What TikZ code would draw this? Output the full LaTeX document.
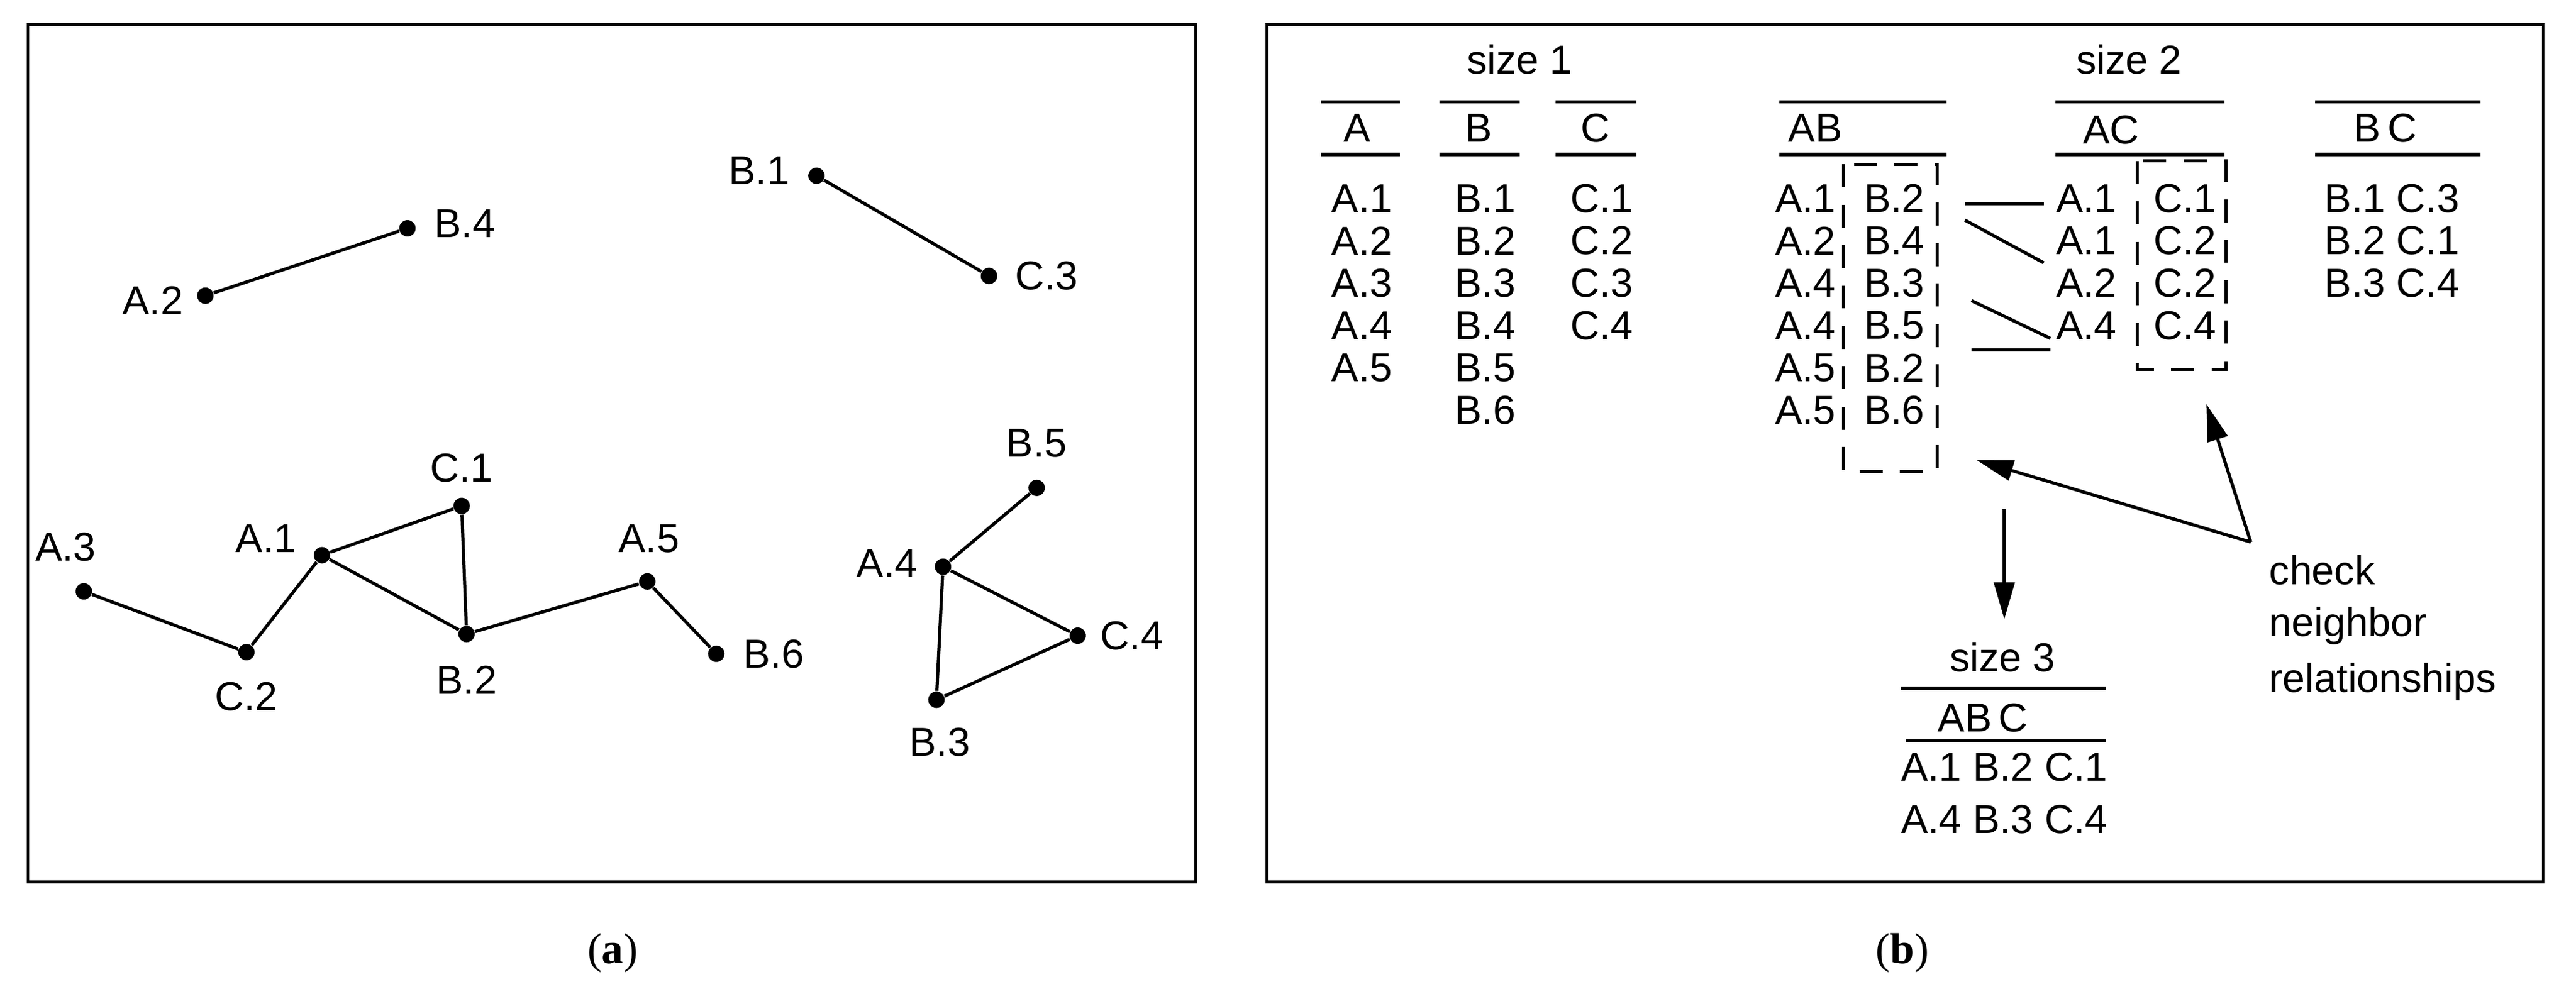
\documentclass[tikz,border=0pt]{standalone}
\usepackage{fontspec}
\setmainfont{Liberation Sans}
\newfontfamily\capfont{Liberation Serif}
\usetikzlibrary{arrows.meta}
\begin{document}
\begin{tikzpicture}[x=0.02cm,y=-0.02cm,
  every node/.style={font=\fontsize{14}{16}\selectfont,inner sep=0pt},
  dot/.style={circle,fill,minimum size=0.2cm,inner sep=0pt},
  edge/.style={line width=1.1pt},
  rule/.style={line width=1.1pt},
  brk/.style={line width=1.1pt,dash pattern=on 8pt off 6pt},
  arr/.style={line width=1.1pt,-{Triangle[length=0.45cm,width=0.25cm]}},
  captxt/.style={font=\capfont\fontsize{15}{17}\selectfont}]
\useasboundingbox (0,0) rectangle (1568,608);
\draw[line width=1pt] (17,15) rectangle (728,537);
\draw[line width=1pt] (771,15) rectangle (1548,537);
\node[captxt] (ca) at (373,580) {(\textbf{a})};
\node[captxt] (cb) at (1158,580) {(\textbf{b})};
% graph
\node[dot] (A2) at (125,180) {}; \node (lA2) at (93,183) {A.2};
\node[dot] (B4) at (248,139) {}; \node (lB4) at (283,136) {B.4};
\node[dot] (B1) at (497,107) {}; \node (lB1) at (462,104) {B.1};
\node[dot] (C3) at (602,168) {}; \node (lC3) at (637,168) {C.3};
\node[dot] (A3) at (51,360) {}; \node (lA3) at (40,333) {A.3};
\node[dot] (C2) at (150,397) {}; \node (lC2) at (150,424) {C.2};
\node[dot] (A1) at (196,338) {}; \node (lA1) at (162,328) {A.1};
\node[dot] (C1) at (281,308) {}; \node (lC1) at (281,285) {C.1};
\node[dot] (B2) at (284,386) {}; \node (lB2) at (284,414) {B.2};
\node[dot] (A5) at (394,354) {}; \node (lA5) at (395,328) {A.5};
\node[dot] (B6) at (436,398) {}; \node (lB6) at (471,398) {B.6};
\node[dot] (B5) at (631,297) {}; \node (lB5) at (631,270) {B.5};
\node[dot] (A4) at (574,345) {}; \node (lA4) at (540,343) {A.4};
\node[dot] (C4) at (656,387) {}; \node (lC4) at (689,387) {C.4};
\node[dot] (B3) at (570,426) {}; \node (lB3) at (572,452) {B.3};
\draw[edge] (A2)--(B4) (B1)--(C3) (A3)--(C2) (C2)--(A1) (A1)--(C1) (A1)--(B2)
  (C1)--(B2) (B2)--(A5) (A5)--(B6) (A4)--(B5) (A4)--(C4) (A4)--(B3) (B3)--(C4);
% size 1
\node (s1) at (925,36) {size 1};
\draw[rule] (804,62)--(852,62) (804,94)--(852,94);
\draw[rule] (876,62)--(925,62) (876,94)--(925,94);
\draw[rule] (947,62)--(996,62) (947,94)--(996,94);
\node (hA) at (826,78) {A}; \node (hB) at (900,78) {B}; \node (hC) at (971,78) {C};
\foreach \t [count=\i] in {A.1,A.2,A.3,A.4,A.5} \node (ta\i) at (829,{95+25.8*\i}) {\t};
\foreach \t [count=\i] in {B.1,B.2,B.3,B.4,B.5,B.6} \node (tb\i) at (904,{95+25.8*\i}) {\t};
\foreach \t [count=\i] in {C.1,C.2,C.3,C.4} \node (tc\i) at (975,{95+25.8*\i}) {\t};
% size 2
\node (s2) at (1296,36) {size 2};
\draw[rule] (1083,62)--(1185,62) (1083,94)--(1185,94);
\draw[rule] (1251,62)--(1354,62) (1251,94)--(1354,94);
\draw[rule] (1409,62)--(1510,62) (1409,94)--(1510,94);
\node (hAB) at (1105,78) {AB}; \node (hAC) at (1285,79) {AC}; \node (hBC) at (1452,78) {B\,C};
\foreach \a/\b [count=\i] in {A.1/B.2,A.2/B.4,A.4/B.3,A.4/B.5,A.5/B.2,A.5/B.6}{
  \node (aba\i) at (1099,{95+25.8*\i}) {\a}; \node (abb\i) at (1153,{95+25.8*\i}) {\b};}
\foreach \a/\b [count=\i] in {A.1/C.1,A.1/C.2,A.2/C.2,A.4/C.4}{
  \node (aca\i) at (1270,{95+25.8*\i}) {\a}; \node (acc\i) at (1330,{95+25.8*\i}) {\b};}
\foreach \a/\b [count=\i] in {B.1/C.3,B.2/C.1,B.3/C.4}{
  \node (bc\i) at (1456,{95+25.8*\i}) {\a\ \b};}
\draw[brk] (1122,100) rectangle (1179,287);
\draw[brk] (1301,98) rectangle (1355,225);
\coordinate (l1a) at (1196,124); \coordinate (l1b) at (1244,124);
\coordinate (l2a) at (1196,134); \coordinate (l2b) at (1244,160);
\coordinate (l3a) at (1200,183); \coordinate (l3b) at (1248,206);
\coordinate (l4a) at (1200,213); \coordinate (l4b) at (1248,213);
\draw[edge] (l1a)--(l1b) (l2a)--(l2b) (l3a)--(l3b) (l4a)--(l4b);
% arrows
\coordinate (ap) at (1370,330);
\coordinate (t1) at (1203,280); \coordinate (t2) at (1343,246);
\draw[arr] (ap)--(t1); \draw[arr] (ap)--(t2);
\coordinate (d1) at (1220,310); \coordinate (d2) at (1220,377);
\draw[arr] (d1)--(d2);
\node[anchor=west] (chk1) at (1381,347) {check};
\node[anchor=west] (chk2) at (1381,381) {neighbor};
\node[anchor=west] (chk3) at (1381,415) {relationships};
% size 3
\node (s3) at (1219,400) {size 3};
\draw[rule] (1157,419)--(1282,419) (1160,451)--(1282,451);
\node (hABC) at (1207,437) {AB\,C};
\node (r1) at (1220,467) {A.1 B.2 C.1};
\node (r2) at (1220,499) {A.4 B.3 C.4};
\end{tikzpicture}
\end{document}
